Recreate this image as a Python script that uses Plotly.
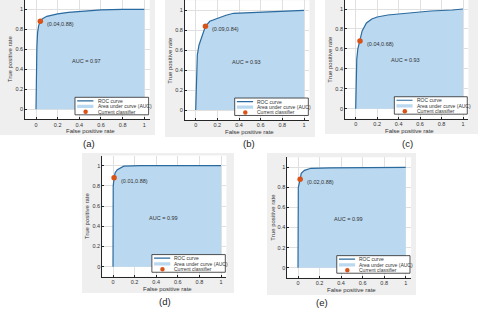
import plotly.graph_objects as go

W, H = 480, 313

# ---------------- data ----------------
panel_labels = ["(a)", "(b)", "(c)", "(d)", "(e)"]
auc_values = [0.97, 0.93, 0.93, 0.99, 0.99]
op_fpr = [0.04, 0.09, 0.04, 0.01, 0.02]
op_tpr = [0.88, 0.84, 0.68, 0.88, 0.88]

fpr_a = [0, 0.003, 0.008, 0.015, 0.025, 0.04, 0.06, 0.1, 0.15, 0.2, 0.3, 0.4, 0.5, 0.6, 0.8, 1.0]
tpr_a = [0, 0.35, 0.62, 0.77, 0.84, 0.88, 0.905, 0.93, 0.945, 0.955, 0.97, 0.98, 0.99, 0.995, 1.0, 1.0]

fpr_b = [0, 0.005, 0.015, 0.03, 0.05, 0.09, 0.13, 0.2, 0.28, 0.35, 0.45, 0.6, 0.8, 1.0]
tpr_b = [0, 0.3, 0.55, 0.65, 0.72, 0.84, 0.89, 0.92, 0.95, 0.97, 0.975, 0.98, 0.99, 1.0]

fpr_c = [0, 0.003, 0.01, 0.02, 0.04, 0.06, 0.1, 0.15, 0.2, 0.3, 0.5, 0.7, 0.9, 1.0]
tpr_c = [0, 0.3, 0.5, 0.6, 0.68, 0.78, 0.86, 0.9, 0.92, 0.94, 0.96, 0.98, 0.99, 1.0]

fpr_d = [0, 0.002, 0.01, 0.02, 0.04, 0.07, 0.1, 0.25, 0.5, 1.0]
tpr_d = [0, 0.8, 0.88, 0.93, 0.96, 0.975, 0.995, 1.0, 1.0, 1.0]

fpr_e = [0, 0.003, 0.02, 0.03, 0.06, 0.12, 0.3, 0.6, 1.0]
tpr_e = [0, 0.8, 0.88, 0.94, 0.97, 0.99, 0.995, 1.0, 1.0]

fpr_all = [fpr_a, fpr_b, fpr_c, fpr_d, fpr_e]
tpr_all = [tpr_a, tpr_b, tpr_c, tpr_d, tpr_e]

tick_vals = [0, 0.2, 0.4, 0.6, 0.8, 1]
tick_text = ["0", "0.2", "0.4", "0.6", "0.8", "1"]
legend_labels = ["ROC curve", "Area under curve (AUC)", "Current classifier"]
x_title = "False positive rate"
y_title = "True positive rate"

# ---------------- style / layout geometry (pixels) ----------------
LINE_C = "#2b6a9e"
FILL_C = "#bad8ef"
MARK_C = "#d95319"
GRAY_BG = "#efefef"
TXT_C = "#333333"
FONT = "Liberation Sans, Arial, sans-serif"

geom = [
    dict(X0=36.0, sx=108.3, Y0=109.3, sy=100.0, bg=(0, 0, 155, 135), lab=(89, 143)),
    dict(X0=195.7, sx=108.3, Y0=110.0, sy=99.7, bg=(165, 0, 315, 137), lab=(249, 143)),
    dict(X0=355.7, sx=107.3, Y0=108.7, sy=99.7, bg=(325, 0, 478, 134), lab=(407, 143)),
    dict(X0=113.0, sx=108.0, Y0=266.7, sy=101.0, bg=(82, 153, 234, 293), lab=(165, 301)),
    dict(X0=298.0, sx=107.7, Y0=267.7, sy=100.4, bg=(267, 153, 416, 295), lab=(322, 302)),
]
XR = (-0.1, 1.05)
YR = (-0.1, 1.1)

fig = go.Figure()
shapes = []
annotations = []

# gray panel backgrounds first
for g in geom:
    bx0, by0, bx1, by1 = g["bg"]
    shapes.append(dict(type="rect", xref="paper", yref="paper",
                       x0=bx0 / W, x1=bx1 / W, y0=1 - by1 / H, y1=1 - by0 / H,
                       fillcolor=GRAY_BG, line=dict(width=0), layer="below"))

for i, g in enumerate(geom):
    n = i + 1
    xs = "" if n == 1 else str(n)
    xname, yname = "x" + xs, "y" + xs
    X0, sx, Y0, sy = g["X0"], g["sx"], g["Y0"], g["sy"]
    left = X0 + XR[0] * sx
    right = X0 + XR[1] * sx
    bottom = Y0 - YR[0] * sy
    top = Y0 - YR[1] * sy
    yr_top = YR[1]
    if top < 0:
        top = 0
        yr_top = Y0 / sy
    xdom = [left / W, right / W]
    ydom = [1 - bottom / H, 1 - top / H]

    def dx(v):
        return (v - XR[0]) / (XR[1] - XR[0])

    def dy(v, t=yr_top):
        return (v - YR[0]) / (t - YR[0])

    axcommon = dict(tickvals=tick_vals, ticktext=tick_text, ticks="inside", ticklen=2,
                    tickcolor="#262626", tickwidth=0.6, showline=True, linecolor="#262626",
                    linewidth=0.8, showgrid=True, gridcolor="#e0e0e0", gridwidth=0.6,
                    zeroline=False, tickfont=dict(size=5.5, color=TXT_C, family=FONT),
                    fixedrange=True)
    fig.update_layout(**{
        "xaxis" + xs: dict(domain=xdom, range=list(XR), anchor=yname, **axcommon),
        "yaxis" + xs: dict(domain=ydom, range=[YR[0], yr_top], anchor=xname, **axcommon),
    })

    # white axes box
    shapes.append(dict(type="rect", xref=xname + " domain", yref=yname + " domain",
                       x0=0, x1=1, y0=0, y1=1, fillcolor="white", line=dict(width=0),
                       layer="below"))

    fpr, tpr = fpr_all[i], tpr_all[i]
    fig.add_trace(go.Scatter(x=fpr, y=tpr, mode="lines", fill="tozeroy",
                             fillcolor=FILL_C, line=dict(width=0, color=FILL_C),
                             xaxis=xname, yaxis=yname, showlegend=False, hoverinfo="skip"))
    fig.add_trace(go.Scatter(x=fpr, y=tpr, mode="lines", line=dict(width=1.2, color=LINE_C),
                             xaxis=xname, yaxis=yname, showlegend=False))
    fig.add_trace(go.Scatter(x=[op_fpr[i]], y=[op_tpr[i]], mode="markers",
                             marker=dict(size=5.5, color=MARK_C),
                             xaxis=xname, yaxis=yname, showlegend=False))

    # manual legend (data coords inside axes)
    shapes.append(dict(type="rect", xref=xname, yref=yname, x0=0.36, x1=1.04,
                       y0=-0.055, y1=0.12, fillcolor="white",
                       line=dict(color="#262626", width=0.8), layer="above"))
    shapes.append(dict(type="line", xref=xname, yref=yname, x0=0.38, x1=0.53,
                       y0=0.085, y1=0.085, line=dict(color=LINE_C, width=1.2), layer="above"))
    shapes.append(dict(type="rect", xref=xname, yref=yname, x0=0.38, x1=0.53,
                       y0=0.012, y1=0.045, fillcolor=FILL_C, line=dict(width=0), layer="above"))
    shapes.append(dict(type="circle", xref=xname, yref=yname, x0=0.437, x1=0.479,
                       y0=-0.047, y1=-0.003, fillcolor=MARK_C, line=dict(width=0), layer="above"))
    for lab, ly in zip(legend_labels, [0.085, 0.03, -0.024]):
        annotations.append(dict(text=lab, xref=xname, yref=yname, x=0.55, y=ly,
                                xanchor="left", yanchor="middle", showarrow=False,
                                font=dict(size=5, color=TXT_C, family=FONT)))

    # operating-point label and AUC
    annotations.append(dict(text="(%.2f,%.2f)" % (op_fpr[i], op_tpr[i]), xref=xname, yref=yname,
                            x=op_fpr[i] + 0.045, y=op_tpr[i] - 0.03, xanchor="left",
                            yanchor="middle", showarrow=False,
                            font=dict(size=5.5, color=TXT_C, family=FONT)))
    annotations.append(dict(text="AUC = %.2f" % auc_values[i], xref=xname, yref=yname,
                            x=0.465, y=0.485, xanchor="center", yanchor="middle",
                            showarrow=False, font=dict(size=5.5, color=TXT_C, family=FONT)))
    # axis titles (domain coords so they may sit outside the plotting area)
    annotations.append(dict(text=x_title, xref=xname + " domain", yref=yname + " domain",
                            x=dx(0.5), y=dy(-0.222),
                            xanchor="center", yanchor="middle", showarrow=False,
                            font=dict(size=6, color=TXT_C, family=FONT)))
    annotations.append(dict(text=y_title, xref=xname + " domain", yref=yname + " domain",
                            x=dx(-0.24), y=dy(0.5),
                            xanchor="center", yanchor="middle", textangle=-90, showarrow=False,
                            font=dict(size=6, color=TXT_C, family=FONT)))
    # panel label
    lx, ly = g["lab"]
    annotations.append(dict(text=panel_labels[i], xref="paper", yref="paper",
                            x=lx / W, y=1 - ly / H, xanchor="center", yanchor="middle",
                            showarrow=False, font=dict(size=9.5, color="#222222", family=FONT)))

fig.update_layout(width=W, height=H, margin=dict(l=0, r=0, t=0, b=0),
                  paper_bgcolor="white", plot_bgcolor="white",
                  shapes=shapes, annotations=annotations, showlegend=False)

fig.write_html("out.html", config={"displayModeBar": False},
               post_script="document.body.style.margin='0';document.body.style.overflow='hidden';")
